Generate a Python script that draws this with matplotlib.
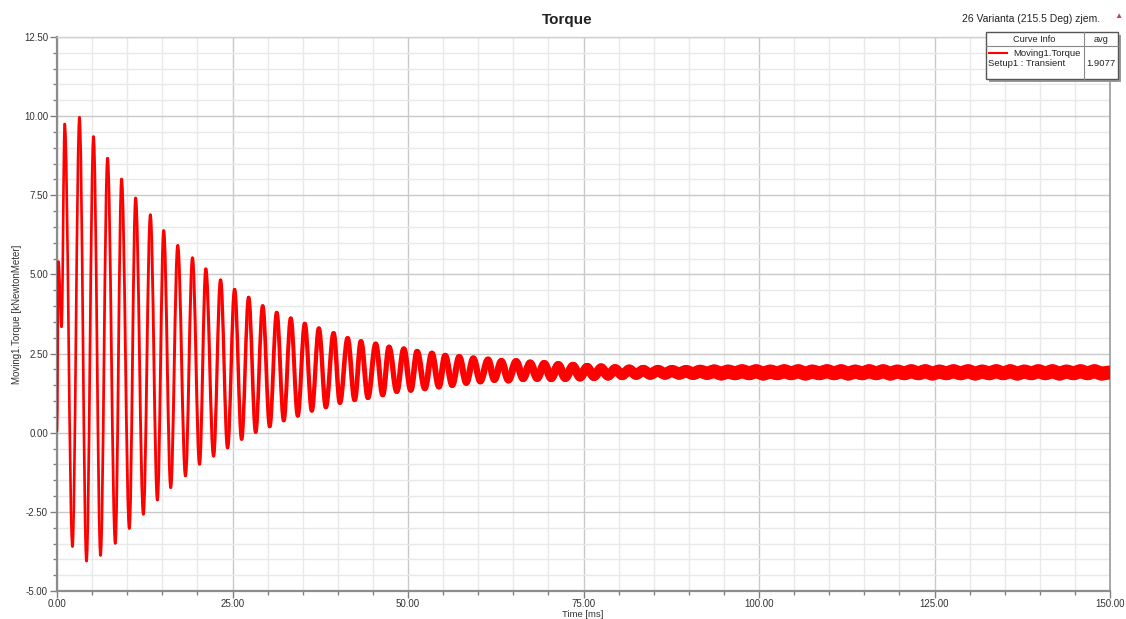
import numpy as np
import matplotlib
matplotlib.use("Agg")
import matplotlib.pyplot as plt
from matplotlib.patches import Rectangle, PathPatch
from matplotlib.path import Path
from matplotlib.ticker import MultipleLocator, FormatStrFormatter

plt.rcParams["font.family"] = ["Liberation Sans", "DejaVu Sans"]

# start-up of the transient (ms, kNm)
start_ms = [0.0, 0.2, 0.65]
start_val = [0.05, 5.40, 3.35]

# positive swings of the oscillation
peak_ms = [1.1, 3.2, 5.2, 7.2, 9.2, 11.2, 13.3, 15.2, 17.2, 19.3,
           21.2, 23.3, 25.3, 27.3, 29.3, 31.3, 33.3, 35.3, 37.3, 39.4,
           41.4, 43.3, 45.4, 47.3, 49.4, 51.3, 53.4, 55.3, 57.3, 59.3,
           61.4, 63.3, 65.4, 67.4, 69.4, 71.4, 73.5, 75.5, 77.5, 79.5,
           81.5, 83.5, 85.6, 87.6, 89.6, 91.6, 93.6, 95.6, 97.6, 99.6,
           101.6, 103.6, 105.6, 107.6, 109.7, 111.7, 113.7, 115.7, 117.7, 119.7,
           121.7, 123.7, 125.7, 127.7, 129.8, 131.8, 133.8, 135.8, 137.8, 139.8,
           141.8, 143.8, 145.8, 147.8]
peak_val = [9.75, 9.96, 9.35, 8.67, 8.01, 7.41, 6.88, 6.38, 5.91, 5.52,
            5.17, 4.82, 4.52, 4.27, 4.00, 3.79, 3.61, 3.44, 3.29, 3.14,
            2.98, 2.88, 2.80, 2.70, 2.64, 2.56, 2.50, 2.43, 2.39, 2.34,
            2.30, 2.25, 2.24, 2.19, 2.17, 2.13, 2.10, 2.06, 2.04, 2.01,
            1.99, 1.97, 1.96, 1.95, 1.94, 1.94, 1.94, 1.93, 1.94, 1.94,
            1.93, 1.94, 1.94, 1.93, 1.94, 1.94, 1.93, 1.94, 1.94, 1.93,
            1.94, 1.94, 1.93, 1.94, 1.94, 1.93, 1.94, 1.94, 1.93, 1.94,
            1.94, 1.93, 1.94, 1.94]

# negative swings of the oscillation
trough_ms = [2.2, 4.2, 6.2, 8.3, 10.3, 12.3, 14.3, 16.2, 18.3, 20.3,
             22.3, 24.3, 26.3, 28.3, 30.3, 32.3, 34.3, 36.3, 38.3, 40.3,
             42.4, 44.3, 46.4, 48.4, 50.4, 52.4, 54.4, 56.3, 58.3, 60.3,
             62.3, 64.3, 66.4, 68.4, 70.4, 72.4, 74.5, 76.5, 78.5, 80.5,
             82.5, 84.5, 86.6, 88.6, 90.6, 92.6, 94.6, 96.6, 98.6, 100.6,
             102.6, 104.6, 106.6, 108.6, 110.7, 112.7, 114.7, 116.7, 118.7, 120.7,
             122.7, 124.7, 126.7, 128.7, 130.8, 132.8, 134.8, 136.8, 138.8, 140.8,
             142.8, 144.8, 146.8, 148.8]
trough_val = [-3.59, -4.05, -3.87, -3.49, -3.02, -2.57, -2.12, -1.73, -1.36, -0.99,
              -0.73, -0.47, -0.20, 0.02, 0.20, 0.39, 0.54, 0.70, 0.81, 0.95,
              1.04, 1.11, 1.20, 1.31, 1.35, 1.40, 1.46, 1.51, 1.58, 1.63,
              1.68, 1.67, 1.72, 1.73, 1.73, 1.74, 1.76, 1.78, 1.80, 1.82,
              1.84, 1.85, 1.86, 1.87, 1.87, 1.88, 1.87, 1.88, 1.88, 1.87,
              1.88, 1.88, 1.87, 1.88, 1.88, 1.87, 1.88, 1.88, 1.87, 1.88,
              1.88, 1.87, 1.88, 1.88, 1.87, 1.88, 1.88, 1.87, 1.88, 1.88,
              1.87, 1.88, 1.88, 1.87]

end_ms = [150.0]
end_val = [1.90]

avg_torque = "1.9077"

t = np.array(start_ms + peak_ms + trough_ms + end_ms)
v = np.array(start_val + peak_val + trough_val + end_val)
order = np.argsort(t)
t, v = t[order], v[order]

# trace looks thicker as the slot ripple takes over (style only)
width_ms = [0, 20, 40, 60, 80, 95, 150]
width_px = [2.6, 3.0, 4.5, 6.5, 10.0, 14.0, 14.0]

fig = plt.figure(figsize=(11.26, 6.19), dpi=100)
ax = fig.add_axes([57 / 1126, 1 - 591 / 619, (1110 - 57) / 1126, (591 - 37) / 619])

# smooth (bezier) swing between consecutive extrema, flat at each extremum
k = 0.364
codes = [Path.MOVETO, Path.CURVE4, Path.CURVE4, Path.CURVE4]
for i in range(len(t) - 1):
    d = t[i + 1] - t[i]
    verts = [(t[i], v[i]), (t[i] + k * d, v[i]), (t[i + 1] - k * d, v[i + 1]), (t[i + 1], v[i + 1])]
    w = np.interp((t[i] + t[i + 1]) / 2, width_ms, width_px) * 0.72
    p = PathPatch(Path(verts, codes), fill=False, edgecolor="#ff0000", lw=w,
                  capstyle="round", joinstyle="round", zorder=3)
    ax.add_patch(p)

ax.set_xlim(0, 150)
ax.set_ylim(-5, 12.5)
ax.xaxis.set_major_locator(MultipleLocator(25))
ax.xaxis.set_minor_locator(MultipleLocator(5))
ax.yaxis.set_major_locator(MultipleLocator(2.5))
ax.yaxis.set_minor_locator(MultipleLocator(0.5))
ax.xaxis.set_major_formatter(FormatStrFormatter("%.2f"))
ax.yaxis.set_major_formatter(FormatStrFormatter("%.2f"))
ax.set_axisbelow(True)
ax.grid(which="minor", color="#e9e9e9", lw=1.0)
ax.grid(which="major", color="#c9c9c9", lw=1.0)
ax.tick_params(which="major", direction="out", length=5, width=1, color="#808080",
               labelsize=7, labelcolor="#333333", pad=1.5)
ax.tick_params(axis="x", which="major", pad=0.5)
ax.tick_params(which="minor", direction="out", length=3, width=1, color="#808080")
for s in ["left", "bottom"]:
    ax.spines[s].set_color("#8c8c8c")
    ax.spines[s].set_linewidth(1.6)
ax.spines["right"].set_color("#9a9a9a")
ax.spines["right"].set_linewidth(1.2)
ax.spines["top"].set_color("#d0d0d0")
ax.spines["top"].set_linewidth(1.0)

ax.set_ylabel("Moving1.Torque [kNewtonMeter]", fontsize=7, color="#333333", labelpad=1)
fig.text(583 / 1126, 1 - 614.5 / 619, "Time [ms]", ha="center", va="center", fontsize=6.8, color="#333333")

fig.text(567 / 1126, 1 - 20 / 619, "Torque", ha="center", va="center", fontsize=11,
         color="#222222", fontweight="bold")
fig.text(1100 / 1126, 1 - 19 / 619, "26 Varianta (215.5 Deg) zjem.", ha="right", va="center",
         fontsize=7.5, color="#222222")
fig.text(1118 / 1126, 1 - 17 / 619, "\u25b2", ha="center", va="center", fontsize=6, color="#c04848")

# curve info box, in figure pixels
ov = fig.add_axes([0, 0, 1, 1], facecolor="none")
ov.set_xlim(0, 1126)
ov.set_ylim(619, 0)
ov.axis("off")
ov.add_patch(Rectangle((989, 35), 132, 47, facecolor="#9a9a9a", edgecolor="none", zorder=1))
ov.add_patch(Rectangle((986, 32), 132, 47, facecolor="white", edgecolor="#555555", lw=1.0, zorder=2))
ov.plot([986, 1118], [45.5, 45.5], color="#888888", lw=0.8, zorder=3)
ov.plot([1084, 1084], [32, 79], color="#888888", lw=0.8, zorder=3)
ov.text(1034, 39.5, "Curve Info", ha="center", va="center", fontsize=6.6, color="#222222", zorder=4)
ov.text(1101, 39.5, "avg", ha="center", va="center", fontsize=6.6, color="#222222", zorder=4)
ov.plot([989, 1007], [52.5, 52.5], color="#ff0000", lw=1.5, zorder=4)
ov.text(1013, 53, "Moving1.Torque", ha="left", va="center", fontsize=6.8, color="#222222", zorder=4)
ov.text(988, 63, "Setup1 : Transient", ha="left", va="center", fontsize=6.8, color="#222222", zorder=4)
ov.text(1101, 63, avg_torque, ha="center", va="center", fontsize=6.8, color="#222222", zorder=4)

fig.savefig("out.png", dpi=100)
